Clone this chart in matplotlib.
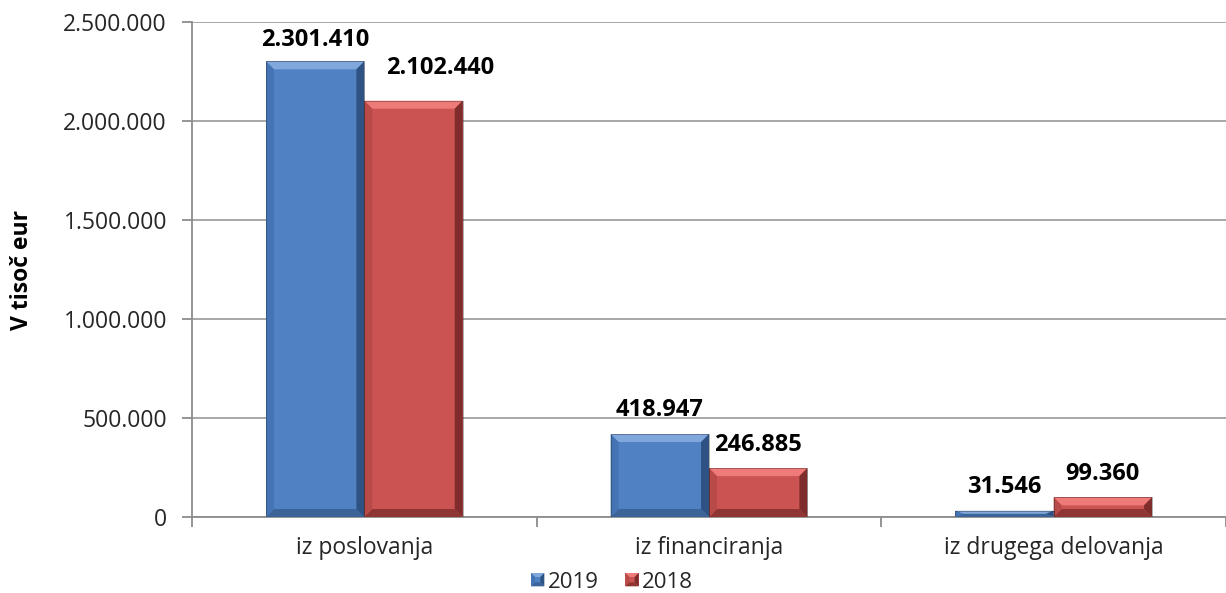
import matplotlib
matplotlib.use("Agg")
import matplotlib.pyplot as plt
from matplotlib.patches import Polygon, Rectangle
from matplotlib.ticker import FuncFormatter
from matplotlib.legend_handler import HandlerBase
import numpy as np

categories = ["iz poslovanja", "iz financiranja", "iz drugega delovanja"]
series_names = ["2019", "2018"]
values_2019 = [2301410, 418947, 31546]
values_2018 = [2102440, 246885, 99360]
y_ticks = [0, 500000, 1000000, 1500000, 2000000, 2500000]

plt.rcParams['font.family'] = ['Open Sans', 'DejaVu Sans']

W, H = 1226, 593
fig = plt.figure(figsize=(W / 100, H / 100), dpi=100)
left, right, bottom, top = 192, 1226, 517, 22
ax = fig.add_axes([left / W, 1 - bottom / H, (right - left) / W, (bottom - top) / H])

cat_px = 347.0
x_max = -0.5 + (right - left) / cat_px
ax.set_xlim(-0.5, x_max)
ax.set_ylim(0, 2500000)

bw = 99 / cat_px
x = np.arange(len(categories))
faces = {"2019": "#5082C3", "2018": "#CB5452"}
tops_c = {"2019": "#80A8DD", "2018": "#EF7B79"}
rights_c = {"2019": "#2E5283", "2018": "#7E2D2C"}
bottoms_c = {"2019": "#3C6498", "2018": "#8F3634"}
lefts_c = {"2019": "#4474B3", "2018": "#B84A48"}

# label offsets in points (style, not data); one label in the reference is nudged
label_offsets = {("2019", 0): (0, 15.5), ("2018", 0): (19, 23.5)}
default_offset = (0, 17)

ax.yaxis.grid(True, color="#A0A0A0", linewidth=1.3, zorder=0)
ax.set_axisbelow(True)

px_y = 2500000 / (bottom - top)
bev_px = 8


def bevel(x0, x1, y0, y1, bx, by, name, z=3):
    polys = [
        ([(x0, y1), (x1, y1), (x1 - bx, y1 - by), (x0 + bx, y1 - by)], tops_c[name]),
        ([(x1, y1), (x1, y0), (x1 - bx, y0 + by), (x1 - bx, y1 - by)], rights_c[name]),
        ([(x0, y0), (x1, y0), (x1 - bx, y0 + by), (x0 + bx, y0 + by)], bottoms_c[name]),
        ([(x0, y0), (x0, y1), (x0 + bx, y1 - by), (x0 + bx, y0 + by)], lefts_c[name]),
    ]
    return [Polygon(pts, closed=True, facecolor=c, edgecolor="none", zorder=z) for pts, c in polys]


for i, (name, vals) in enumerate([("2019", values_2019), ("2018", values_2018)]):
    offs = (i - 0.5) * bw
    bars = ax.bar(x + offs, vals, width=bw, color=faces[name], zorder=2, linewidth=0)
    for b in bars:
        x0, x1 = b.get_x(), b.get_x() + b.get_width()
        y0, y1 = 0, b.get_height()
        bx = bev_px / cat_px
        by = min(bev_px * px_y, (y1 - y0) / 2)
        for a in bevel(x0, x1, y0, y1, bx, by, name):
            ax.add_patch(a)
        ax.add_patch(Rectangle((x0, y0), x1 - x0, y1 - y0, fill=False,
                               edgecolor="#222222", linewidth=0.5, alpha=0.5, zorder=4))
    for j, (b, v) in enumerate(zip(bars, vals)):
        s = f"{v:,}".replace(",", ".")
        off = label_offsets.get((name, j), default_offset)
        ax.annotate(s, (b.get_x() + b.get_width() / 2, b.get_height()),
                    xytext=off, textcoords="offset points", ha="center", va="center",
                    fontsize=17, fontweight="bold", color="#000000", zorder=5)

ax.set_yticks(y_ticks)
ax.yaxis.set_major_formatter(FuncFormatter(lambda v, p: f"{int(v):,}".replace(",", ".")))
ax.set_xticks(np.arange(len(categories) + 1) - 0.5, minor=False)
ax.set_xticklabels([])
ax.set_xticks(x, minor=True)
ax.set_xticklabels(categories, minor=True)
ax.tick_params(axis="x", which="minor", length=0, labelsize=16.5, pad=14)
ax.tick_params(axis="x", which="major", length=7, width=1.3, color="#8C8C8C", direction="out")
ax.tick_params(axis="y", length=7, width=1.3, color="#8C8C8C", labelsize=16.5, pad=11,
               labelcolor="#262626", direction="out")
for lab in ax.get_xticklabels(minor=True):
    lab.set_color("#262626")

for sp in ["top", "right"]:
    ax.spines[sp].set_visible(False)
for sp in ["left", "bottom"]:
    ax.spines[sp].set_color("#8C8C8C")
    ax.spines[sp].set_linewidth(1.3)

ax.set_ylabel("V tisoč eur", fontsize=16.5, fontweight="bold", color="#000000")
ax.yaxis.set_label_coords((10 - left) / (right - left), 0.5)
ax.yaxis.label.set_verticalalignment("top")


class BevelHandler(HandlerBase):
    def create_artists(self, legend, orig_handle, xdescent, ydescent, width, height, fontsize, trans):
        name = orig_handle.get_label()
        s = min(width, height)
        x0, y0 = -xdescent + (width - s) / 2, -ydescent + (height - s) / 2
        arts = [Rectangle((x0, y0), s, s, facecolor=faces[name], edgecolor="none", transform=trans)]
        b = s * 0.3
        for a in bevel(x0, x0 + s, y0, y0 + s, b, b, name):
            a.set_transform(trans)
            arts.append(a)
        return arts


handles = [Rectangle((0, 0), 1, 1, facecolor=faces[n], label=n) for n in series_names]
leg = fig.legend(handles, series_names, loc="center", bbox_to_anchor=(612 / W, 1 - 582 / H),
                 ncol=2, frameon=False, fontsize=16, handlelength=0.6, handleheight=0.6,
                 handletextpad=0.15, columnspacing=1.2,
                 handler_map={Rectangle: BevelHandler()})
for t in leg.get_texts():
    t.set_color("#262626")

fig.savefig("out.png", dpi=100)
